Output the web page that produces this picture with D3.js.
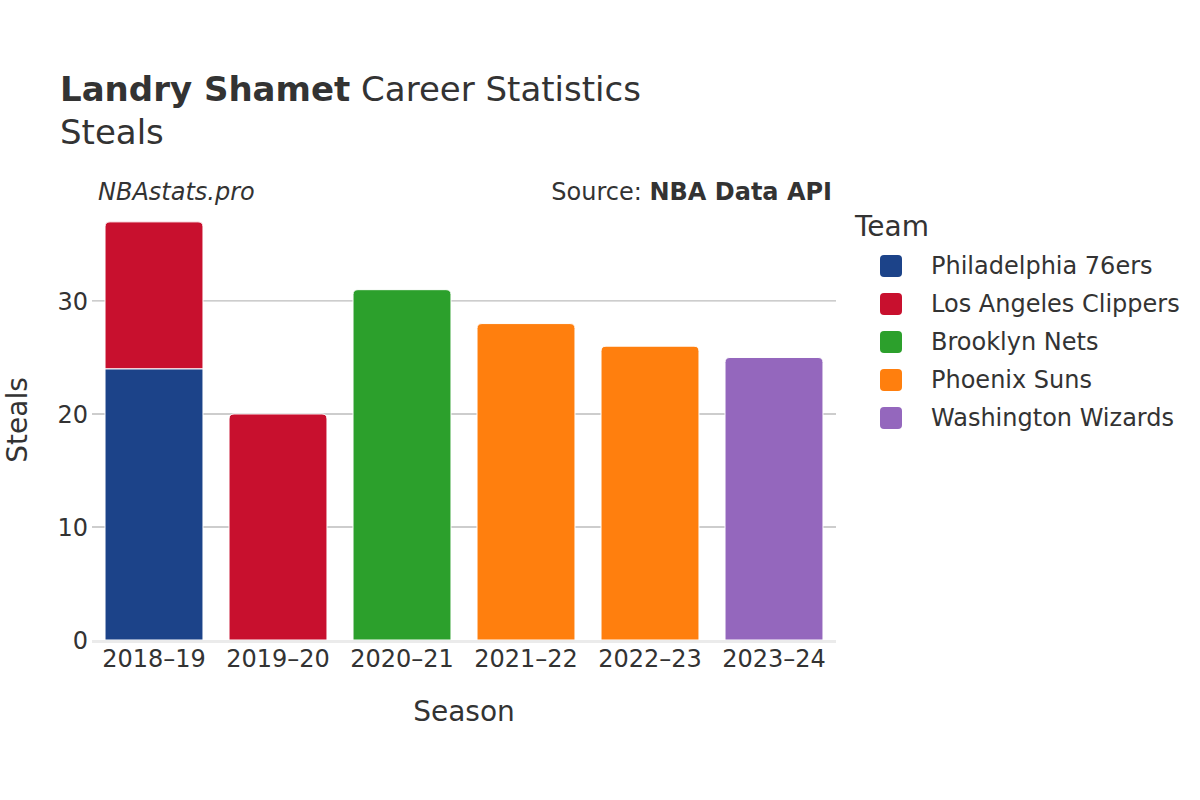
<!DOCTYPE html>
<html>
<head>
<meta charset="utf-8">
<script src="https://cdn.jsdelivr.net/npm/d3@7"></script>
<style>
  body { margin: 0; background: #fff; }
  svg text { font-family: "DejaVu Sans", sans-serif !important; }
</style>
</head>
<body>
<svg width="1200" height="800"></svg>
<script>
const seasons = ["2018–19", "2019–20", "2020–21", "2021–22", "2022–23", "2023–24"];
const teams = ["Philadelphia 76ers", "Los Angeles Clippers", "Brooklyn Nets", "Phoenix Suns", "Washington Wizards"];
const teamColors = ["#1c4389", "#c8102e", "#2ca02c", "#ff7f0e", "#9467bd"];
// one entry per season/team stint, in stacking order
const stintSeason = ["2018–19", "2018–19", "2019–20", "2020–21", "2021–22", "2022–23", "2023–24"];
const stintTeam = ["Philadelphia 76ers", "Los Angeles Clippers", "Los Angeles Clippers", "Brooklyn Nets", "Phoenix Suns", "Phoenix Suns", "Washington Wizards"];
const stintSteals = [24, 13, 20, 31, 28, 26, 25];
const yTicks = [0, 10, 20, 30];

let svg = d3.select("svg");
const margin = {left: 92, right: 364, top: 210, bottom: 160};
const W = 1200, H = 800;

const x = d3.scaleBand().domain(seasons).range([margin.left, W - margin.right])
    .paddingInner(0.21).paddingOuter(0.105);
const y = d3.scaleLinear().domain([0, 38.05]).range([H - margin.bottom, margin.top]);
const color = d3.scaleOrdinal().domain(teams).range(teamColors);

// stack the stints per season
let base = {};
let stints = stintSeason.map(function (s, i) {
    let y0 = base[s] || 0;
    base[s] = y0 + stintSteals[i];
    return {season: s, team: stintTeam[i], y0: y0, y1: y0 + stintSteals[i]};
});
stints.forEach(function (d) { d.top = (base[d.season] === d.y1); });

// gridlines
svg.append("g")
    .selectAll("line")
    .data(yTicks.filter(function (t) { return t > 0; }))
    .enter()
    .append("line")
    .attr("x1", margin.left).attr("x2", W - margin.right)
    .attr("y1", function (d) { return y(d); }).attr("y2", function (d) { return y(d); })
    .attr("stroke", "#bdbdbd").attr("stroke-width", 1.3);

// y axis
let yAxis = svg.append("g")
    .attr("transform", "translate(" + margin.left + ",0)")
    .call(d3.axisLeft(y).tickValues(yTicks).tickSize(0).tickPadding(4));
yAxis.select(".domain").remove();
yAxis.selectAll("text").attr("fill", "#333").style("font-size", "24px").attr("dy", "0.35em");

// bars
function barPath(d) {
    let x0 = x(d.season), w = x.bandwidth();
    let yt = y(d.y1), yb = y(d.y0);
    let r = d.top ? 5 : 0;
    return "M" + x0 + "," + yb +
        "V" + (yt + r) +
        "Q" + x0 + "," + yt + " " + (x0 + r) + "," + yt +
        "H" + (x0 + w - r) +
        "Q" + (x0 + w) + "," + yt + " " + (x0 + w) + "," + (yt + r) +
        "V" + yb + "Z";
}
svg.append("g")
    .selectAll("path")
    .data(stints)
    .enter()
    .append("path")
    .attr("d", barPath)
    .attr("fill", function (d) { return color(d.team); })
    .attr("stroke", "#fff")
    .attr("stroke-width", 1);

// zero line
svg.append("line")
    .attr("x1", margin.left).attr("x2", W - margin.right)
    .attr("y1", y(0) + 1.5).attr("y2", y(0) + 1.5)
    .attr("stroke", "#ebebeb").attr("stroke-width", 3);

// x axis
let xAxis = svg.append("g")
    .attr("transform", "translate(0," + (y(0) + 3) + ")")
    .call(d3.axisBottom(x).tickSize(0).tickPadding(7));
xAxis.select(".domain").remove();
xAxis.selectAll("text").attr("fill", "#333").style("font-size", "24px");

// axis titles
svg.append("text")
    .attr("x", (margin.left + W - margin.right) / 2).attr("y", 721)
    .attr("text-anchor", "middle").attr("fill", "#333").style("font-size", "28px")
    .text("Season");
svg.append("text")
    .attr("transform", "translate(17,420) rotate(-90)")
    .attr("text-anchor", "middle").attr("dy", "0.35em").attr("fill", "#333").style("font-size", "28px")
    .text("Steals");

// titles
let title = svg.append("text").attr("x", 60).attr("y", 101).attr("fill", "#333").style("font-size", "34px");
title.append("tspan").attr("font-weight", "bold").text("Landry Shamet");
title.append("tspan").text(" Career Statistics");
svg.append("text").attr("x", 60).attr("y", 144).attr("fill", "#333").style("font-size", "34px").text("Steals");

svg.append("text").attr("x", 98).attr("y", 200).attr("fill", "#333")
    .style("font-size", "24px").style("font-style", "italic").text("NBAstats.pro");
let src = svg.append("text").attr("x", 832).attr("y", 200).attr("text-anchor", "end")
    .attr("fill", "#333").style("font-size", "24px");
src.append("tspan").text("Source: ");
src.append("tspan").attr("font-weight", "bold").text("NBA Data API");

// legend
svg.append("text").attr("x", 855).attr("y", 236).attr("fill", "#333").style("font-size", "28px").text("Team");
let legend = svg.append("g")
    .selectAll("g")
    .data(teams)
    .enter()
    .append("g")
    .attr("transform", function (d, i) { return "translate(880," + (266 + i * 38) + ")"; });
legend.append("rect")
    .attr("x", 0).attr("y", -11).attr("width", 22).attr("height", 22).attr("rx", 4)
    .attr("fill", function (d) { return color(d); });
legend.append("text")
    .attr("x", 51).attr("dy", "0.35em").attr("fill", "#333").style("font-size", "24px")
    .text(function (d) { return d; });
</script>
</body>
</html>
